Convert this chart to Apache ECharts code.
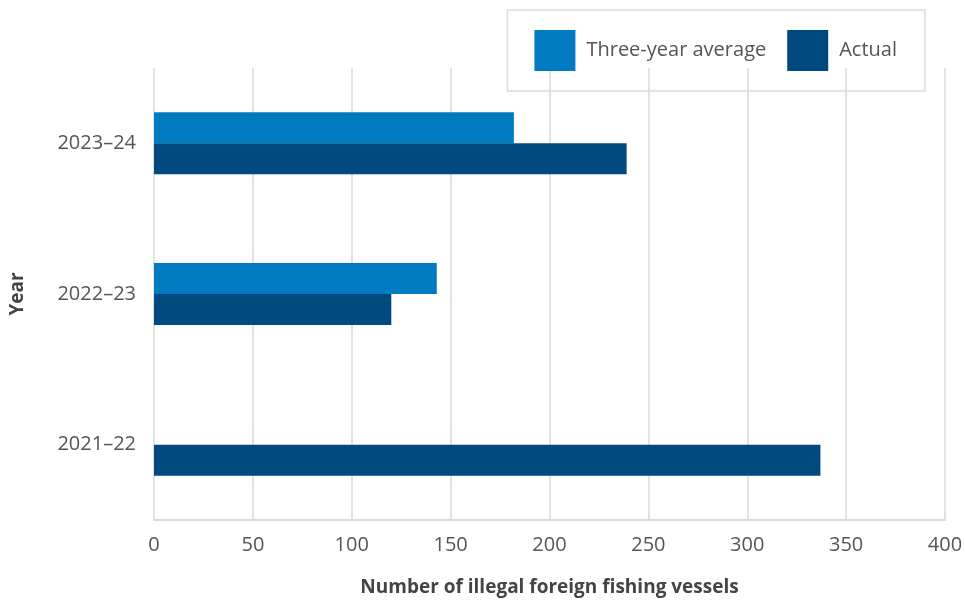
<!DOCTYPE html>
<html><head><meta charset="utf-8">
<script src="https://cdn.jsdelivr.net/npm/echarts@6/dist/echarts.min.js"></script>
<style>html,body{margin:0;padding:0;background:#fff}#c{width:965px;height:600px}</style>
</head><body><div id="c"></div>
<script>
const categories = ['2021–22', '2022–23', '2023–24'];
const threeYearAverage = [null, 143, 182];
const actual = [337, 120, 239];
const seriesNames = ['Three-year average', 'Actual'];
const xTicks = [0, 50, 100, 150, 200, 250, 300, 350, 400];

const chart = echarts.init(document.getElementById('c'));
const font = '"Open Sans", "Noto Sans", sans-serif';
chart.setOption({
  animation: false,
  textStyle: { fontFamily: font },
  grid: { left: 154, right: 20, top: 68, bottom: 80, containLabel: false, outerBoundsMode: 'none' },
  legend: {
    right: 40, top: 10, padding: [20, 28, 20, 27],
    borderColor: '#dcdcdc', borderWidth: 1.5,
    itemWidth: 41, itemHeight: 41, itemGap: 21,
    icon: 'rect',
    textStyle: { fontSize: 20, color: '#555', fontFamily: font, padding: [0, 0, 0, 6] },
    data: seriesNames
  },
  xAxis: {
    type: 'value', min: xTicks[0], max: xTicks[xTicks.length - 1], interval: 50,
    name: 'Number of illegal foreign fishing vessels', nameLocation: 'middle', nameGap: 58,
    nameTextStyle: { fontSize: 19, fontWeight: 'bold', color: '#444', fontFamily: font },
    axisLine: { show: true, lineStyle: { color: '#d9d9d9', width: 2 } },
    axisTick: { show: false },
    axisLabel: { fontSize: 20, color: '#555', margin: 15, fontFamily: font },
    splitLine: { show: true, lineStyle: { color: '#d9d9d9', width: 1.5 } }
  },
  yAxis: {
    type: 'category', data: categories,
    name: 'Year', nameLocation: 'middle', nameGap: 127, nameRotate: 90,
    nameTextStyle: { fontSize: 19, fontWeight: 'bold', color: '#444', fontFamily: font },
    axisLine: { show: false }, axisTick: { show: false },
    axisLabel: { fontSize: 20, color: '#555', margin: 18, fontFamily: font },
    splitLine: { show: false }
  },
  series: [
    { name: seriesNames[0], type: 'bar', data: threeYearAverage, barWidth: 31, barGap: '0%', barCategoryGap: '59%',
      itemStyle: { color: '#007BC2' } },
    { name: seriesNames[1], type: 'bar', data: actual, barWidth: 31, barGap: '0%', barCategoryGap: '59%',
      itemStyle: { color: '#004A80' } }
  ]
});
</script></body></html>
